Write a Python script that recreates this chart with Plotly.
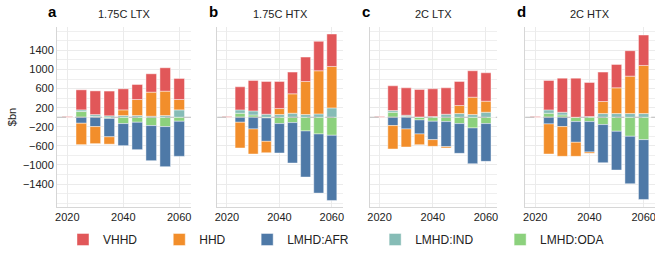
import plotly.graph_objects as go

years = [2020, 2025, 2030, 2035, 2040, 2045, 2050, 2055, 2060]
scenarios = ["1.75C LTX", "1.75C HTX", "2C LTX", "2C HTX"]
letters = ["a", "b", "c", "d"]

vhhd = [
    [15, 420, 497, 518, 441, 315, 385, 490, 441],
    [15, 483, 637, 686, 567, 455, 511, 616, 679],
    [15, 518, 574, 574, 581, 553, 504, 553, 595],
    [15, 616, 714, 819, 714, 616, 490, 532, 637],
]
hhd = [
    [0, -448, -357, -154, 119, 336, 504, 511, 217],
    [0, -539, -525, -238, 126, 406, 693, 903, 868],
    [0, -490, -378, -224, -140, -28, 168, 364, 231],
    [0, -630, -623, -294, -28, 252, 539, 784, 1008],
]
lmhd_afr = [
    [0, -126, -196, -385, -462, -574, -735, -840, -735],
    [0, -105, -245, -490, -616, -847, -966, -1239, -1365],
    [0, -175, -245, -294, -385, -525, -623, -749, -791],
    [0, -140, -196, -434, -637, -798, -812, -994, -1253],
]
lmhd_ind = [
    [0, 35, 40, 30, 35, 35, 21, 35, 154],
    [0, 70, 84, 63, 56, 84, 56, 70, 196],
    [0, 35, 28, 7, 14, 63, 77, 56, 105],
    [0, 70, 56, 0, 14, 77, 77, 77, 77],
]
lmhd_oda = [
    [0, 119, 15, -25, -133, -105, -175, -196, -84],
    [0, 84, 49, -15, -133, -112, -287, -350, -378],
    [0, 105, 14, -56, -84, -91, -133, -224, -133],
    [0, 84, 49, -91, -91, -154, -294, -399, -469],
]

y_tickvals = [-1400, -1000, -600, -200, 200, 600, 1000, 1400]
x_tickvals = [2020, 2040, 2060]

# stacking order (bottom-up): ODA, IND, AFR, HHD, VHHD
series = [
    ("LMHD:ODA", lmhd_oda, "#8CD17D", "legend5", 0.741),
    ("LMHD:IND", lmhd_ind, "#86BCB6", "legend4", 0.532),
    ("LMHD:AFR", lmhd_afr, "#4E79A7", "legend3", 0.318),
    ("HHD", hhd, "#F28E2B", "legend2", 0.171),
    ("VHHD", vhhd, "#E15759", "legend", 0.010),
]

FONT = "Liberation Sans, Arial, Helvetica, sans-serif"
domains = [[0.0, 0.224], [0.268, 0.478], [0.523, 0.736], [0.783, 1.0]]

fig = go.Figure()
layout_axes = {}
shapes = []
annotations = []

for i in range(4):
    sfx = "" if i == 0 else str(i + 1)
    for name, data, color, leg, _ in series:
        fig.add_trace(
            go.Bar(
                x=years, y=data[i], name=name, width=3.8,
                xaxis="x" + sfx, yaxis="y" + sfx,
                marker=dict(color=color, line=dict(color="rgba(255,255,255,0.55)", width=0.8)),
                showlegend=(i == 0), legendgroup=name, legend=leg,
            )
        )
    layout_axes["xaxis" + sfx] = dict(
        domain=domains[i], range=[2016.3, 2064.2], anchor="y" + sfx,
        tickmode="array", tickvals=x_tickvals, ticklabeloverflow="allow",
        showgrid=True, gridcolor="#EBEBEB", gridwidth=1,
        showline=True, linecolor="#D6D6D6", linewidth=1, zeroline=False,
        ticks="", tickfont=dict(size=11, color="#222", family=FONT), automargin=False,
        fixedrange=True,
    )
    layout_axes["yaxis" + sfx] = dict(
        domain=[0, 1], range=[-1880, 1890], anchor="x" + sfx,
        tickmode="array", tickvals=y_tickvals,
        showgrid=True, gridcolor="#EBEBEB", gridwidth=1,
        minor=dict(dtick=200, tick0=0, showgrid=True, gridcolor="#EFEFEF", gridwidth=1),
        showline=True, linecolor="#D6D6D6", linewidth=1, zeroline=False,
        ticks="", tickfont=dict(size=11, color="#222", family=FONT),
        showticklabels=(i == 0), automargin=False, fixedrange=True,
    )
    shapes.append(dict(type="line", xref="x" + sfx + " domain", yref="y" + sfx,
                       x0=0, x1=1, y0=0, y1=0, layer="above",
                       line=dict(color="#BBBBBB", width=1, dash="dash")))
    xc = (domains[i][0] + domains[i][1]) / 2
    annotations.append(dict(x=xc, y=1.072, xref="paper", yref="paper", text=scenarios[i],
                            showarrow=False, font=dict(size=11, color="#222", family=FONT),
                            xanchor="center", yanchor="middle"))
    annotations.append(dict(x=domains[i][0] - 0.007, y=1.085, xref="paper", yref="paper",
                            text="<b>" + letters[i] + "</b>", showarrow=False,
                            font=dict(size=15, color="#000", family=FONT),
                            xanchor="center", yanchor="middle"))

annotations.append(dict(x=-0.075, y=0.5, xref="paper", yref="paper", text="$bn", textangle=-90,
                        showarrow=False, font=dict(size=11, color="#222", family=FONT),
                        xanchor="center", yanchor="middle"))

legends = {}
for name, data, color, leg, lx in series:
    legends[leg] = dict(orientation="h", x=lx, xanchor="left", y=-0.183, yanchor="middle",
                        font=dict(size=12, color="#222", family=FONT),
                        bgcolor="rgba(0,0,0,0)", itemwidth=30)

fig.update_layout(
    width=655, height=254,
    margin=dict(l=57, r=0, t=27, b=47),
    barmode="relative",
    plot_bgcolor="white", paper_bgcolor="white",
    font=dict(family=FONT, size=11, color="#222"),
    shapes=shapes, annotations=annotations,
    hovermode=False,
    **layout_axes, **legends,
)

fig.write_html(
    "out.html",
    config={"displayModeBar": False, "staticPlot": True},
    post_script="document.body.style.margin='0px';document.body.style.overflow='hidden';",
)
